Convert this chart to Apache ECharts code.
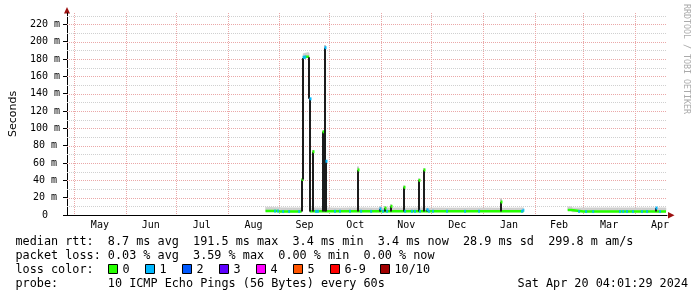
<!DOCTYPE html>
<html><head><meta charset="utf-8">
<script src="https://cdn.jsdelivr.net/npm/echarts@6/dist/echarts.min.js"></script>
<style>html,body{margin:0;padding:0;background:#fff}#c{width:697px;height:297px}</style>
</head><body><div id="c"></div>
<script>
// ---------- axis definitions ----------
const xStart = '2023-04-26 19:00';
const xEnd = '2024-04-20 04:00';
const monthStarts = ['2023-05-01','2023-06-01','2023-07-01','2023-08-01','2023-09-01','2023-10-01','2023-11-01','2023-12-01','2024-01-01','2024-02-01','2024-03-01','2024-04-01'];
const monthMids = ['2023-05-16 12:00','2023-06-16 00:00','2023-07-16 12:00','2023-08-16 12:00','2023-09-16 00:00','2023-10-16 12:00','2023-11-16 00:00','2023-12-16 12:00','2024-01-16 12:00','2024-02-15 12:00','2024-03-16 12:00','2024-04-16 00:00'];
const monthLabels = ['May','Jun','Jul','Aug','Sep','Oct','Nov','Dec','Jan','Feb','Mar','Apr'];
const yMax = 233;
const yMajorTicks = [0,20,40,60,80,100,120,140,160,180,200,220];
const yMinorLines = [10,30,50,70,90,110,130,150,170,190,210,230];

// ---------- median rtt + smoke (ms), null = no data ----------
const baseDates = [
 '2023-08-23 17:00','2023-08-27 00:00','2023-08-31 00:00','2023-09-01 12:00','2023-09-05 00:00','2023-09-09 00:00','2023-09-14 08:00','2023-09-14 12:00',
 '2023-09-15 04:00','2023-09-16 00:00','2023-09-17 00:00','2023-09-18 00:00','2023-09-18 20:00','2023-09-19 00:00',
 '2023-09-19 04:00','2023-09-23 00:00','2023-09-30 00:00','2023-10-07 00:00','2023-10-14 00:00','2023-10-21 00:00','2023-10-28 00:00',
 '2023-11-04 00:00','2023-11-11 00:00','2023-11-18 00:00','2023-11-25 00:00','2023-12-02 00:00','2023-12-09 00:00','2023-12-16 00:00',
 '2023-12-23 00:00','2023-12-30 00:00','2024-01-06 00:00','2024-01-13 00:00','2024-01-20 00:00','2024-01-25 06:00','2024-01-26 00:00',
 '2024-02-20 17:00','2024-02-23 00:00','2024-02-23 08:00','2024-03-01 00:00','2024-03-08 00:00','2024-03-15 00:00','2024-03-22 00:00',
 '2024-03-29 00:00','2024-04-05 00:00','2024-04-12 00:00','2024-04-19 14:00'
];
const medianVals = [
 4.6,4.6,4.5,4.1,4.0,4.1,4.0,null,
 181.5,182,182.5,183,182.5,null,
 4.2,4.3,4.3,4.2,4.3,4.3,4.2,
 4.3,4.3,4.2,4.3,4.3,4.3,4.2,
 4.3,4.3,4.3,4.2,4.3,4.3,null,
 5.8,5.8,4.0,4.0,4.0,4.0,4.0,
 4.0,4.0,4.0,4.0
];
const smokeLowVals = [
 4.0,4.0,4.0,3.6,3.6,3.6,3.6,null,
 181,181.5,182,182.5,182,null,
 3.6,3.7,3.7,3.6,3.7,3.7,3.6,
 3.7,3.7,3.6,3.7,3.7,3.7,3.6,
 3.7,3.7,3.7,3.6,3.7,3.7,null,
 5.2,5.2,3.5,3.5,3.5,3.5,3.5,
 3.5,3.5,3.5,3.5
];
const smokeHighVals = [
 9.0,8.8,8.6,8.4,8.3,8.3,8.3,null,
 186,186.5,187,187.5,187,null,
 8.3,8.3,8.3,8.2,8.3,8.3,8.2,
 8.3,8.3,8.2,8.3,8.2,8.2,8.2,
 8.2,8.2,8.2,8.2,8.2,8.3,null,
 9.5,9.5,8.3,8.3,8.3,8.3,8.3,
 8.3,8.3,8.3,8.3
];

// ---------- spikes: time, low, median (cap), smoke top, loss (-1 = none) ----------
const spikeDates = ['2023-09-14 10:00','2023-09-15 04:00','2023-09-18 20:00','2023-09-19 04:00','2023-09-21 00:00','2023-09-27 06:00','2023-09-28 04:00','2023-09-29 03:00','2023-10-18 00:00','2023-10-31 07:00','2023-11-03 07:00','2023-11-06 21:00','2023-11-14 10:00','2023-11-23 19:00','2023-11-26 12:00','2023-11-28 17:00','2024-01-11 14:00','2024-04-13 12:00'];
const spikeLow  = [4, 41, 134, 4, 4, 4, 4, 4, 4, 4, 4, 4, 4, 4, 4, 4, 4, 4];
const spikeCap  = [41, 181, 182, 134, 73, 96, 193, 62, 52, 7, 8, 10, 32, 40, 52, 6, 15, 8];
const spikeTop  = [41, 181, 182, 134, 75, 97, 196, 62, 56, 10, 10.5, 12.5, 34, 42, 54, 8, 19, 8];
const spikeLoss = [0, -1, -1, 1, 0, 0, 1, 1, 0, 1, 0, 0, 0, 0, 0, 1, 0, 1];

// ---------- 1/10 loss flecks on the median ----------
const blueDates = ['2023-08-29 10:00','2023-08-31 05:00','2023-09-03 05:00','2023-09-06 19:00','2023-09-12 19:00','2023-09-15 12:00','2023-09-16 00:00','2023-09-16 12:00','2023-09-22 22:00','2023-09-24 02:00','2023-10-04 07:00','2023-10-07 07:00','2023-10-13 07:00','2023-10-19 22:00','2023-10-25 22:00','2023-11-02 02:00','2023-11-04 12:00','2023-11-15 07:00','2023-11-19 10:00','2023-11-21 05:00','2023-11-24 05:00','2023-11-29 14:00','2023-12-02 00:00','2023-12-10 10:00','2023-12-21 05:00','2023-12-29 14:00','2024-01-24 07:00','2024-01-25 04:00','2024-02-27 12:00','2024-03-02 17:00','2024-03-06 22:00','2024-03-23 00:00','2024-03-24 22:00','2024-03-27 05:00','2024-03-30 19:00','2024-04-05 05:00','2024-04-08 05:00','2024-04-16 00:00'];
const blueVals = [4.5,4.5,4.0,4.0,4.0,182,182,182,4.2,4.2,4.2,4.3,4.3,4.3,4.2,4.3,4.3,4.3,4.3,4.2,4.3,4.3,4.3,4.3,4.2,4.3,4.3,5.5,4.0,4.0,4.0,4.0,4.0,4.0,4.0,4.0,4.0,4.0];

// ---------- legend ----------
const lossLabels = ['0','1','2','3','4','5','6-9','10/10'];
const lossColors = ['#26ff00','#00b8ff','#0059ff','#5e00ff','#ff00ff','#ff5500','#ff0000','#a10000'];
const statLines = [
 'median rtt:  8.7 ms avg  191.5 ms max  3.4 ms min  3.4 ms now  28.9 ms sd  299.8 m am/s',
 'packet loss: 0.03 % avg  3.59 % max  0.00 % min  0.00 % now'
];
const lossTitle = 'loss color:';
const probeText = 'probe:       10 ICMP Echo Pings (56 Bytes) every 60s';
const dateText = 'Sat Apr 20 04:01:29 2024';
const yTitle = 'Seconds';
const watermark = 'RRDTOOL / TOBI OETIKER';

// ---------- build ----------
const T = s => { const [d, h] = s.split(' '); const [Y, M, D] = d.split('-').map(Number); const [hh, mm] = (h || '00:00').split(':').map(Number); return Date.UTC(Y, M - 1, D, hh, mm); };
const num = v => (v === null ? '-' : v);
const medianData = baseDates.map((d, i) => [T(d), num(medianVals[i])]);
const smokeData = baseDates.map((d, i) => [T(d), num(smokeLowVals[i]), num(smokeHighVals[i])]);
const spikeData = spikeDates.map((d, i) => [T(d), spikeLow[i], spikeCap[i], spikeTop[i], spikeLoss[i]]);
const blueData = blueDates.map((d, i) => [T(d), blueVals[i]]);
const midVals = monthMids.map(T);

const MONO = 'DejaVu Sans Mono';
const majorGrid = '#eaa8a8';
const minorGrid = '#d0d0d0';

const graphics = [];
const FONT = '11.8px "' + MONO + '"';
statLines.forEach((t, i) => graphics.push({ type: 'text', x: 15.5, y: 241.5 + i * 14, style: { text: t, font: FONT, fill: '#000', textVerticalAlign: 'middle' }, silent: true }));
graphics.push({ type: 'text', x: 15.5, y: 269.5, style: { text: lossTitle, font: FONT, fill: '#000', textVerticalAlign: 'middle' }, silent: true });
const squareX = [108, 145, 182, 219, 256, 293, 330, 380];
lossLabels.forEach((l, i) => {
  graphics.push({ type: 'rect', shape: { x: squareX[i] + 0.5, y: 264.5, width: 9, height: 9 }, style: { fill: lossColors[i], stroke: '#000', lineWidth: 1 }, silent: true });
  graphics.push({ type: 'text', x: squareX[i] + 14.5, y: 269.5, style: { text: l, font: FONT, fill: '#000', textVerticalAlign: 'middle' }, silent: true });
});
graphics.push({ type: 'text', x: 15.5, y: 283.5, style: { text: probeText, font: FONT, fill: '#000', textVerticalAlign: 'middle' }, silent: true });
graphics.push({ type: 'text', x: 688, y: 283.5, style: { text: dateText, font: FONT, fill: '#000', textAlign: 'right', textVerticalAlign: 'middle' }, silent: true });
graphics.push({ type: 'text', x: 686.5, y: 4, rotation: -Math.PI / 2, style: { text: watermark, font: '8.3px "' + MONO + '"', fill: '#aaaaaa', textAlign: 'left', textVerticalAlign: 'middle' }, silent: true });
graphics.push({ type: 'polygon', shape: { points: [[64, 13.5], [70, 13.5], [67, 7]] }, style: { fill: '#9c1010' }, silent: true });
graphics.push({ type: 'polygon', shape: { points: [[668, 212], [668, 218.5], [674.5, 215.2]] }, style: { fill: '#9c1010' }, silent: true });

// crisp dotted grid lines, positioned through the axes
const gridSeries = (name, values, horizontal, color) => ({
  type: 'custom', name, silent: true, z: 1,
  data: values.map(v => (horizontal ? [T(xStart), v] : [v, 0])),
  encode: { x: 0, y: 1 },
  renderItem: (params, api) => {
    const cs = params.coordSys;
    const p = api.coord([api.value(0), api.value(1)]);
    const shape = horizontal
      ? { x1: cs.x, y1: Math.round(p[1]) + 0.5, x2: cs.x + cs.width, y2: Math.round(p[1]) + 0.5 }
      : { x1: Math.round(p[0]) + 0.5, y1: cs.y, x2: Math.round(p[0]) + 0.5, y2: cs.y + cs.height };
    return { type: 'line', shape, style: { stroke: color, lineWidth: 1, lineDash: [1, 1] } };
  }
});

const chart = echarts.init(document.getElementById('c'), null, { renderer: 'canvas', width: 697, height: 297 });
chart.setOption({
  animation: false,
  backgroundColor: '#ffffff',
  grid: { left: 67, right: 30, top: 13, bottom: 82 },
  xAxis: {
    type: 'value', min: T(xStart), max: T(xEnd),
    axisLine: { lineStyle: { color: '#000', width: 1 } },
    axisTick: { show: false },
    splitLine: { show: false },
    axisLabel: {
      customValues: midVals,
      formatter: v => { const i = midVals.findIndex(m => Math.abs(m - v) < 3600000); return i >= 0 ? monthLabels[i] : ''; },
      fontFamily: MONO, fontSize: 10, color: '#000', margin: 5, hideOverlap: false
    }
  },
  yAxis: {
    type: 'value', min: 0, max: yMax, interval: 20,
    name: yTitle, nameLocation: 'middle', nameRotate: 90, nameGap: 48,
    nameTextStyle: { fontFamily: 'DejaVu Sans', fontSize: 11, color: '#000' },
    axisLine: { show: true, lineStyle: { color: '#000', width: 1 } },
    axisTick: { show: true, length: 4, customValues: yMajorTicks, lineStyle: { color: '#000' } },
    splitLine: { show: false },
    axisLabel: {
      customValues: yMajorTicks,
      formatter: v => (v === 0 ? '0' : (v % 20 === 0 ? v + ' m' : '')),
      fontFamily: MONO, fontSize: 10, color: '#000', align: 'center', margin: 22
    }
  },
  graphic: graphics,
  series: [
    gridSeries('gridMinor', yMinorLines, true, minorGrid),
    gridSeries('gridMajorH', yMajorTicks.filter(v => v > 0), true, majorGrid),
    gridSeries('gridMajorV', monthStarts.map(T), false, majorGrid),
    { type: 'custom', name: 'smoke', data: smokeData, z: 4, silent: true,
      encode: { x: 0, y: [1, 2] },
      renderItem: (params, api) => {
        const i = params.dataIndex;
        if (i + 1 >= smokeData.length) return null;
        const a = smokeData[i], b = smokeData[i + 1];
        if (a[1] === '-' || b[1] === '-') return null;
        const pts = [api.coord([a[0], a[1]]), api.coord([b[0], b[1]]), api.coord([b[0], b[2]]), api.coord([a[0], a[2]])];
        return { type: 'polygon', shape: { points: pts }, style: { fill: '#cfcfcf', stroke: '#cfcfcf', lineWidth: 0.5 } };
      } },
    { type: 'line', name: 'median', data: medianData, symbol: 'none', z: 6,
      lineStyle: { color: lossColors[0], width: 2.5 }, silent: true, connectNulls: false },
    { type: 'custom', name: 'spikes', data: spikeData, z: 8, silent: true,
      encode: { x: 0, y: [1, 2, 3] },
      renderItem: (params, api) => {
        const t = api.value(0);
        const pLo = api.coord([t, api.value(1)]);
        const pCap = api.coord([t, api.value(2)]);
        const pTop = api.coord([t, api.value(3)]);
        const loss = api.value(4);
        const w = 2, x = Math.round(pLo[0]) - 1;
        const kids = [];
        if (pTop[1] < pCap[1] - 0.5) kids.push({ type: 'rect', shape: { x, y: pTop[1], width: w, height: pCap[1] - pTop[1] }, style: { fill: '#c8c8c8' } });
        kids.push({ type: 'rect', shape: { x, y: pCap[1], width: w, height: pLo[1] - pCap[1] }, style: { fill: '#1c1c1c' } });
        if (loss >= 0) kids.push({ type: 'rect', shape: { x: x + 0.5, y: pCap[1] - 1.5, width: w, height: 3 }, style: { fill: lossColors[loss] } });
        return { type: 'group', children: kids };
      } },
    { type: 'scatter', name: 'loss1', data: blueData, symbol: 'rect', symbolSize: [2, 3], z: 9, silent: true,
      itemStyle: { color: lossColors[1] } }
  ]
});
</script></body></html>
